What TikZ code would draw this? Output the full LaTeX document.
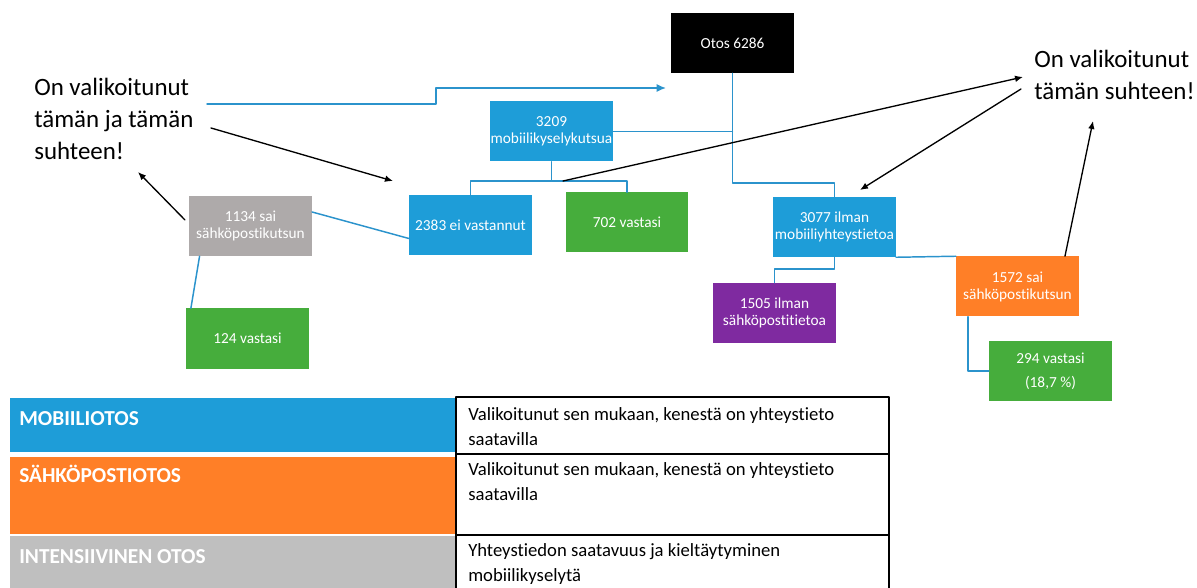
\documentclass[tikz,border=0pt]{standalone}
\usepackage{fontspec}
\setmainfont[Ligatures={NoCommon}]{Carlito}
\usetikzlibrary{arrows.meta}
\usetikzlibrary{positioning}
\definecolor{mobblue}{RGB}{30,157,216}
\definecolor{lineblue}{RGB}{43,147,204}
\definecolor{okgreen}{RGB}{70,173,60}
\definecolor{mailorange}{RGB}{255,127,39}
\definecolor{nomailpurple}{RGB}{127,42,160}
\definecolor{boxgray}{RGB}{174,170,170}
\definecolor{rowgray}{RGB}{191,191,191}
\begin{document}
\begin{tikzpicture}[line cap=round,line join=round, x=0.75pt,y=-0.75pt,
  box/.style={rectangle, minimum width=92pt, minimum height=45pt, inner sep=0pt,
    text=white, align=center, font=\fontsize{11.5}{12.75}\selectfont},
  conn/.style={color=lineblue, line width=1.1pt},
  pointer/.style={color=black, line width=1pt, -{Latex[length=6pt, width=5pt]}},
  bigtext/.style={inner sep=0pt, align=left, font=\fontsize{18.7}{24}\selectfont},
  headtext/.style={inner sep=0pt, text=white, font=\fontsize{16}{19}\selectfont\bfseries},
  celltext/.style={inner sep=0pt, align=left, font=\fontsize{14}{19}\selectfont}]
\useasboundingbox (0,0) rectangle (1197,588);
\node[box, fill=black] (otos) at (732.5,43) {Otos 6286};
\node[box, fill=mobblue] (kutsu) at (551.5,131.5) {3209\\mobiilikyselykutsua};
\node[box, fill=mobblue] (eivast) at (470.5,225.5) {2383 ei vastannut};
\node[box, fill=okgreen] (vast702) at (627,222.5) {702 vastasi};
\node[box, fill=mobblue] (ilman) at (834.5,227) {3077 ilman\\mobiiliyhteystietoa};
\node[box, fill=boxgray] (sai1134) at (250.5,226) {1134 sai\\sähköpostikutsun};
\node[box, fill=okgreen] (vast124) at (247.5,338.5) {124 vastasi};
\node[box, fill=nomailpurple] (ilmansp) at (774.5,313) {1505 ilman\\sähköpostitietoa};
\node[box, fill=mailorange] (sai1572) at (1017.5,286.5) {1572 sai\\sähköpostikutsun};
\node[box, fill=okgreen] (vast294) at (1050.5,371) {294 vastasi\\[5pt](18,7 \%)};
\node[bigtext, anchor=north west] (vasen) at (34,78) {On valikoitunut\\tämän ja tämän\\suhteen!};
\node[bigtext, anchor=north west] (oikea) at (1034,50) {On valikoitunut\\tämän suhteen!};
\coordinate (j1) at (834.5,183);
\coordinate (j2) at (551.5,181);
\coordinate (j3) at (834.5,269);
\draw[conn] (otos.south) |- (j1) -- (ilman.north);
\draw[conn] (kutsu.east) -- (kutsu.east -| otos.south);
\draw[conn] (kutsu.south) -- (j2) -| (eivast.north);
\draw[conn] (j2) -| (vast702.north);
\draw[conn] ([yshift=10.5pt]sai1134.east) -- ([yshift=-9.75pt]eivast.west);
\draw[conn] ([xshift=8pt]sai1134.south west) -- ([xshift=3.75pt]vast124.north west);
\draw[conn] (ilman.south) -- (j3) -| (ilmansp.north);
\draw[conn] (ilman.south east) -- (sai1572.north west);
\draw[conn] ([xshift=9pt]sai1572.south west) |- (vast294.west);
\coordinate (bA) at (207,104);
\coordinate (bB) at (436,88);
\coordinate (bC) at (666,88);
\draw[conn, -{Latex[length=7pt, width=6pt]}] (bA) -| (bB) -- (bC);
\coordinate (p1) at (211,128);
\coordinate (p1e) at (393,181);
\coordinate (p2) at (185,220);
\coordinate (p2e) at (138,172);
\coordinate (p3) at (563,181);
\coordinate (p3e) at (1023,77);
\coordinate (p4) at (1021,89);
\coordinate (p4e) at (860,190);
\coordinate (p5e) at (1093,121);
\draw[pointer] (p1) -- (p1e);
\draw[pointer] (p2) -- (p2e);
\draw[pointer] (p3) -- (p3e);
\draw[pointer] (p4) -- (p4e);
\draw[pointer] ([xshift=35.6pt]sai1572.north) -- (p5e);
\fill[mobblue] (10,398) rectangle (456,452);
\fill[mailorange] (10,457) rectangle (456,534);
\fill[rowgray] (10,536) rectangle (456,588);
\draw[line width=0.8pt] (456,590) -- (456,397) -- (889,397) -- (889,590);
\draw[line width=0.8pt] (456,454) -- (889,454);
\draw[line width=0.8pt] (456,535) -- (889,535);
\node[headtext, anchor=base west] (mobotos) at (19,425) {MOBIILIOTOS};
\node[headtext, anchor=base west] (spotos) at (19,482) {SÄHKÖPOSTIOTOS};
\node[headtext, anchor=base west] (intotos) at (19,563) {INTENSIIVINEN OTOS};
\node[celltext, anchor=north west] (mobkuvaus) at (468,407) {Valikoitunut sen mukaan, kenestä on yhteystieto\\saatavilla};
\node[celltext, anchor=north west] (spkuvaus) at (468,462) {Valikoitunut sen mukaan, kenestä on yhteystieto\\saatavilla};
\node[celltext, anchor=north west] (intkuvaus) at (468,543) {Yhteystiedon saatavuus ja kieltäytyminen\\mobiilikyselytä};
\end{tikzpicture}
\end{document}
